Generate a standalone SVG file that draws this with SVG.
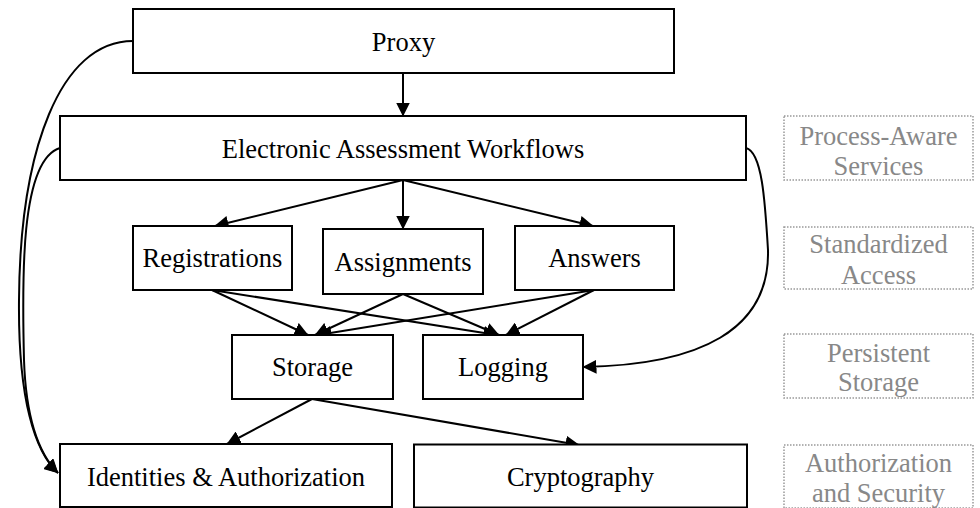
<svg xmlns="http://www.w3.org/2000/svg" width="980" height="508" viewBox="0 0 980 508">
  <defs>
    <marker id="ah" viewBox="0 0 14 14" markerWidth="14" markerHeight="14" refX="13.5" refY="7" orient="auto" markerUnits="userSpaceOnUse">
      <path d="M0,0 L14,7 L0,14 z" fill="#000"/>
    </marker>
    <style>
      .box { fill: #fff; stroke: #000; stroke-width: 2; }
      .lbl { fill: #fff; stroke: #999; stroke-width: 1.5; stroke-dasharray: 1.5 1.5; }
      .t { font-family: "Liberation Serif", "Times New Roman", serif; font-size: 26.5px; text-anchor: middle; fill: #000; }
      .g { fill: #888; }
      .e { fill: none; stroke: #000; stroke-width: 2; marker-end: url(#ah); }
    </style>
  </defs>
  <rect width="980" height="508" fill="#fff"/>

  <g id="connectors">
    <path class="e" d="M403,73 L403,116"/>
    <path class="e" d="M403,180 L215,226"/>
    <path class="e" d="M403,180 L403,229"/>
    <path class="e" d="M403,180 L593,226"/>
    <path class="e" d="M212,290 L308,335"/>
    <path class="e" d="M403,294 L315,335"/>
    <path class="e" d="M594,290 L318,335"/>
    <path class="e" d="M212,290 L497,335"/>
    <path class="e" d="M403,294 L499,335"/>
    <path class="e" d="M594,290 L506,335"/>
    <path class="e" d="M312,399 L227,444"/>
    <path class="e" d="M312,399 L579,445"/>
    <path class="e" d="M133,41 C60,41 20,150 19,300 C18,400 35,452 58,473"/>
    <path class="e" d="M60,148 C20,160 22,280 24,360 C26,420 40,455 58,473"/>
    <path class="e" d="M746,148 C762,152 765,200 768,250 C770,330 700,365 583,367"/>
  </g>

  <g id="proxy">
    <rect class="box" x="133" y="9" width="541" height="64"/>
    <text class="t" x="403.5" y="50.5">Proxy</text>
  </g>
  <g id="workflows">
    <rect class="box" x="60" y="116" width="686" height="64"/>
    <text class="t" x="403" y="157.5">Electronic Assessment Workflows</text>
  </g>
  <g id="registrations">
    <rect class="box" x="133" y="226" width="159" height="64"/>
    <text class="t" x="212.5" y="267">Registrations</text>
  </g>
  <g id="assignments">
    <rect class="box" x="323" y="229" width="160" height="65"/>
    <text class="t" x="403" y="270.5">Assignments</text>
  </g>
  <g id="answers">
    <rect class="box" x="515" y="226" width="159" height="64"/>
    <text class="t" x="594.5" y="267">Answers</text>
  </g>
  <g id="storage">
    <rect class="box" x="232" y="335" width="161" height="64"/>
    <text class="t" x="312.5" y="376">Storage</text>
  </g>
  <g id="logging">
    <rect class="box" x="423" y="335" width="160" height="64"/>
    <text class="t" x="503" y="376">Logging</text>
  </g>
  <g id="identities">
    <rect class="box" x="60" y="444" width="332" height="63"/>
    <text class="t" x="226" y="486">Identities &amp; Authorization</text>
  </g>
  <g id="cryptography">
    <rect class="box" x="414" y="444.5" width="333" height="63"/>
    <text class="t" x="580.5" y="486">Cryptography</text>
  </g>

  <g id="layer-process">
    <rect class="lbl" x="784" y="116" width="189" height="64"/>
    <text class="t g" x="878.5" y="145">Process-Aware</text>
    <text class="t g" x="878.5" y="174.5">Services</text>
  </g>
  <g id="layer-access">
    <rect class="lbl" x="784" y="227" width="189" height="62"/>
    <text class="t g" x="878.5" y="253">Standardized</text>
    <text class="t g" x="878.5" y="283.5">Access</text>
  </g>
  <g id="layer-storage">
    <rect class="lbl" x="784" y="334" width="189" height="64"/>
    <text class="t g" x="878.5" y="362">Persistent</text>
    <text class="t g" x="878.5" y="390.5">Storage</text>
  </g>
  <g id="layer-security">
    <rect class="lbl" x="784" y="445" width="189" height="63"/>
    <text class="t g" x="878.5" y="472">Authorization</text>
    <text class="t g" x="878.5" y="501.5">and Security</text>
  </g>
</svg>
